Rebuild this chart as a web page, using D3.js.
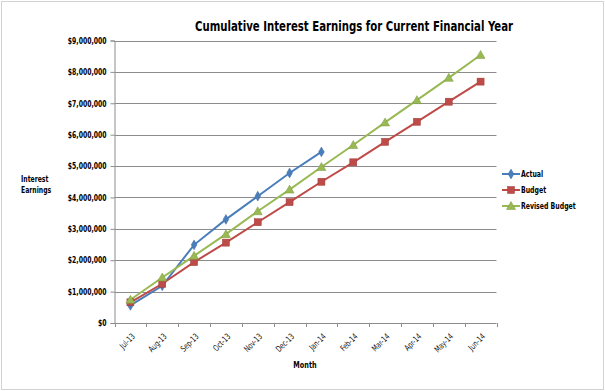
<!DOCTYPE html>
<html><head><meta charset="utf-8">
<script src="https://cdn.jsdelivr.net/npm/d3@7/dist/d3.min.js"></script>
<style>
body{margin:0;background:#fff;}
svg{display:block;}
text{font-family:"DejaVu Sans Condensed","Liberation Sans",sans-serif;font-weight:bold;fill:#000;}
text.xl{font-weight:normal;fill:#111;}
</style></head><body>
<svg id="c" width="605" height="391"></svg>
<script>
const months = ["Jul-13","Aug-13","Sep-13","Oct-13","Nov-13","Dec-13","Jan-14","Feb-14","Mar-14","Apr-14","May-14","Jun-14"];
const actual = [560000,1185000,2490000,3300000,4040000,4780000,5450000];
const budget = [660000,1250000,1940000,2560000,3210000,3850000,4500000,5120000,5770000,6410000,7050000,7690000];
const revised = [740000,1450000,2140000,2830000,3560000,4250000,4970000,5670000,6390000,7100000,7810000,8540000];
const yTicks = [0,1000000,2000000,3000000,4000000,5000000,6000000,7000000,8000000,9000000];
const seriesNames = ["Actual","Budget","Revised Budget"];

const svg = d3.select("#c");
svg.append("rect").attr("x",1.5).attr("y",1.5).attr("width",602).attr("height",388)
  .attr("fill","none").attr("stroke","#a6a6a6").attr("stroke-width",1).attr("stroke-dasharray","1,1");

const L=114.5, R=496.5, T=40.5, B=323;
const x = d3.scaleBand().domain(months).range([L,R]);
const y = d3.scaleLinear().domain([0,9000000]).range([B,T]);

svg.append("g").selectAll("line").data(yTicks.filter(d=>d>0)).join("line")
  .attr("x1",L).attr("x2",R).attr("y1",d=>Math.round(y(d))+0.5).attr("y2",d=>Math.round(y(d))+0.5)
  .attr("stroke","#8c8c8c").attr("stroke-width",1);

const yAxis = d3.axisLeft(y).tickValues(yTicks).tickSize(4).tickPadding(4)
  .tickFormat(d=>"$"+d3.format(",")(d));
const gy = svg.append("g").attr("transform",`translate(${L},0)`).call(yAxis);
gy.selectAll("path,line").attr("stroke","#8c8c8c");
gy.selectAll("text").attr("font-size","8.5px").attr("font-family",null).attr("fill","#000").classed("nar",true).attr("data-f",0.8);

const gx = svg.append("g").attr("transform",`translate(0,${B})`);
gx.append("line").attr("x1",L).attr("x2",R).attr("y1",0.5).attr("y2",0.5).attr("stroke","#8c8c8c");
const bounds = months.map(m=>x(m)).concat([R]);
gx.selectAll("line.tk").data(bounds).join("line").attr("class","tk")
  .attr("x1",d=>Math.round(d)+0.5).attr("x2",d=>Math.round(d)+0.5).attr("y1",0).attr("y2",4)
  .attr("stroke","#8c8c8c");
gx.selectAll("text").data(months).join("text")
  .attr("transform",d=>`translate(${x(d)+x.bandwidth()/2+3},${12}) rotate(-45)`)
  .attr("text-anchor","end").attr("font-size","8.5px")
  .attr("dy","0.35em").attr("class","xl nar").attr("data-f",0.8).text(d=>d);

svg.append("text").attr("x",354).attr("y",31).attr("text-anchor","middle").attr("font-size","14px")
  .classed("fit",true).attr("data-w",318).text("Cumulative Interest Earnings for Current Financial Year");
svg.append("text").attr("x",21).attr("y",182).attr("font-size","8px").classed("nar",true).attr("data-f",0.85).text("Interest");
svg.append("text").attr("x",21).attr("y",193).attr("font-size","8px").classed("nar",true).attr("data-f",0.85).text("Earnings");
svg.append("text").attr("x",305).attr("y",368).attr("text-anchor","middle").attr("font-size","8.5px").classed("nar",true).attr("data-f",0.85).text("Month");

const colors = ["#4a7ebb","#be4b48","#98b954"];
const data = [actual,budget,revised];
const cx = (d,i)=>x(months[i])+x.bandwidth()/2;
const line = d3.line().x((d,i)=>cx(d,i)).y(d=>y(d));

function marker(g,type,color){
  if(type===0) g.append("path").attr("d",d3.symbol(d3.symbolDiamond,28)()).attr("fill",color).attr("stroke","#3c6ba5").attr("stroke-width",0.5);
  else if(type===1) g.append("rect").attr("x",-3.5).attr("y",-3.5).attr("width",7).attr("height",7).attr("fill",color).attr("stroke","#a33a37").attr("stroke-width",0.5);
  else g.append("path").attr("d","M0,-4.5L4.5,3.5L-4.5,3.5Z").attr("fill",color).attr("stroke","#7f9a3f").attr("stroke-width",0.5);
}

data.forEach((vals,s)=>{
  svg.append("path").datum(vals).attr("d",line).attr("fill","none").attr("stroke",colors[s]).attr("stroke-width",2);
});
data.forEach((vals,s)=>{
  vals.forEach((v,i)=>{
    const g = svg.append("g").attr("transform",`translate(${cx(v,i)},${y(v)})`);
    marker(g,s,colors[s]);
  });
});

const ly=[174,190,206];
seriesNames.forEach((n,s)=>{
  svg.append("line").attr("x1",502).attr("x2",520).attr("y1",ly[s]).attr("y2",ly[s]).attr("stroke",colors[s]).attr("stroke-width",2);
  const g = svg.append("g").attr("transform",`translate(511,${ly[s]})`);
  marker(g,s,colors[s]);
  svg.append("text").attr("x",521).attr("y",ly[s]).attr("dy","0.35em").attr("font-size","8px").classed("nar",true).attr("data-f",0.86).text(n);
});

svg.selectAll("text.nar").each(function(){
  const f=+this.getAttribute("data-f");
  const w=this.getComputedTextLength();
  d3.select(this).attr("textLength",w*f).attr("lengthAdjust","spacingAndGlyphs");
});
svg.selectAll("text.fit").each(function(){
  d3.select(this).attr("textLength",+this.getAttribute("data-w")).attr("lengthAdjust","spacingAndGlyphs");
});
</script></body></html>
